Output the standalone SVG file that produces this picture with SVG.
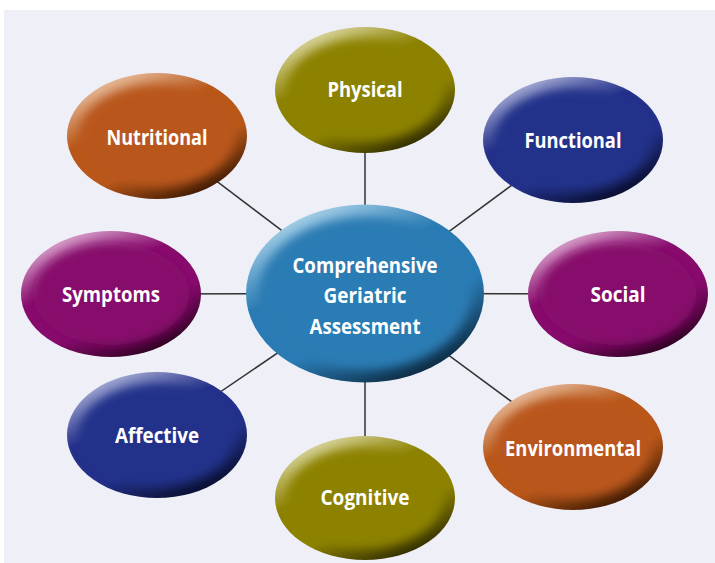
<svg xmlns="http://www.w3.org/2000/svg" width="715" height="563" viewBox="0 0 715 563">
<style>
.lbl{font-family:"Open Sans","Liberation Sans",sans-serif;font-weight:bold;font-size:21.5px;fill:#fff;text-anchor:middle}
.conn line{stroke:#333;stroke-width:1.5}
.inner{filter:url(#soft)}
</style>
<defs>
<filter id="soft" x="-20%" y="-20%" width="140%" height="140%"><feGaussianBlur stdDeviation="5"/></filter>
<clipPath id="clipS" clipPathUnits="userSpaceOnUse"><ellipse cx="0" cy="0" rx="90" ry="63"/></clipPath>
<clipPath id="clipC" clipPathUnits="userSpaceOnUse"><ellipse cx="0" cy="0" rx="119" ry="89"/></clipPath>
<linearGradient id="gOr" x1="0.2" y1="0.02" x2="0.8" y2="0.98"><stop offset="0" stop-color="#ecc8ac"/><stop offset="0.35" stop-color="#b9571a"/><stop offset="0.65" stop-color="#b9571a"/><stop offset="1" stop-color="#2e1200"/></linearGradient>
<linearGradient id="gOl" x1="0.2" y1="0.02" x2="0.8" y2="0.98"><stop offset="0" stop-color="#e2dfb0"/><stop offset="0.35" stop-color="#8c8200"/><stop offset="0.65" stop-color="#8c8200"/><stop offset="1" stop-color="#252200"/></linearGradient>
<linearGradient id="gNv" x1="0.2" y1="0.02" x2="0.8" y2="0.98"><stop offset="0" stop-color="#b4badc"/><stop offset="0.35" stop-color="#24318a"/><stop offset="0.65" stop-color="#24318a"/><stop offset="1" stop-color="#050a22"/></linearGradient>
<linearGradient id="gPu" x1="0.2" y1="0.02" x2="0.8" y2="0.98"><stop offset="0" stop-color="#e2b4d6"/><stop offset="0.35" stop-color="#870b6c"/><stop offset="0.65" stop-color="#870b6c"/><stop offset="1" stop-color="#220018"/></linearGradient>
<linearGradient id="gBl" x1="0.2" y1="0.02" x2="0.8" y2="0.98"><stop offset="0" stop-color="#b8dcee"/><stop offset="0.35" stop-color="#2a7bb4"/><stop offset="0.65" stop-color="#2a7bb4"/><stop offset="1" stop-color="#081e30"/></linearGradient>
</defs>
<rect x="0" y="0" width="715" height="563" fill="#fff"/>
<rect x="4" y="10" width="711" height="553" fill="#eeeff7"/>
<g class="conn" id="connectors">
<line x1="365" y1="293.5" x2="365" y2="90"/>
<line x1="365" y1="293.5" x2="157" y2="136"/>
<line x1="365" y1="293.5" x2="573" y2="140"/>
<line x1="365" y1="293.5" x2="111" y2="294"/>
<line x1="365" y1="293.5" x2="618" y2="294"/>
<line x1="365" y1="293.5" x2="157" y2="435"/>
<line x1="365" y1="293.5" x2="365" y2="498"/>
<line x1="365" y1="293.5" x2="573" y2="447"/>
</g>
<g id="physical" transform="translate(365,90)">
<ellipse rx="90" ry="63" fill="url(#gOl)"/>
<ellipse class="inner" rx="78" ry="51" fill="#8c8200" clip-path="url(#clipS)"/>
<text class="lbl" x="0" y="7" textLength="75" lengthAdjust="spacingAndGlyphs">Physical</text>
</g>
<g id="nutritional" transform="translate(157,136)">
<ellipse rx="90" ry="63" fill="url(#gOr)"/>
<ellipse class="inner" rx="78" ry="51" fill="#b9571a" clip-path="url(#clipS)"/>
<text class="lbl" x="0" y="9" textLength="101" lengthAdjust="spacingAndGlyphs">Nutritional</text>
</g>
<g id="functional" transform="translate(573,140)">
<ellipse rx="90" ry="63" fill="url(#gNv)"/>
<ellipse class="inner" rx="78" ry="51" fill="#24318a" clip-path="url(#clipS)"/>
<text class="lbl" x="0" y="8" textLength="97" lengthAdjust="spacingAndGlyphs">Functional</text>
</g>
<g id="symptoms" transform="translate(111,294)">
<ellipse rx="90" ry="63" fill="url(#gPu)"/>
<ellipse class="inner" rx="78" ry="51" fill="#870b6c" clip-path="url(#clipS)"/>
<text class="lbl" x="0" y="8" textLength="98" lengthAdjust="spacingAndGlyphs">Symptoms</text>
</g>
<g id="social" transform="translate(618,294)">
<ellipse rx="90" ry="63" fill="url(#gPu)"/>
<ellipse class="inner" rx="78" ry="51" fill="#870b6c" clip-path="url(#clipS)"/>
<text class="lbl" x="0" y="8" textLength="55" lengthAdjust="spacingAndGlyphs">Social</text>
</g>
<g id="affective" transform="translate(157,435)">
<ellipse rx="90" ry="63" fill="url(#gNv)"/>
<ellipse class="inner" rx="78" ry="51" fill="#24318a" clip-path="url(#clipS)"/>
<text class="lbl" x="0" y="8" textLength="84" lengthAdjust="spacingAndGlyphs">Affective</text>
</g>
<g id="cognitive" transform="translate(365,498)">
<ellipse rx="90" ry="62" fill="url(#gOl)"/>
<ellipse class="inner" rx="78" ry="50" fill="#8c8200" clip-path="url(#clipS)"/>
<text class="lbl" x="0" y="7" textLength="89" lengthAdjust="spacingAndGlyphs">Cognitive</text>
</g>
<g id="environmental" transform="translate(573,447)">
<ellipse rx="90" ry="63" fill="url(#gOr)"/>
<ellipse class="inner" rx="78" ry="51" fill="#b9571a" clip-path="url(#clipS)"/>
<text class="lbl" x="0" y="9" textLength="136" lengthAdjust="spacingAndGlyphs">Environmental</text>
</g>
<g id="cga" transform="translate(365,293.5)">
<ellipse rx="119" ry="89" fill="url(#gBl)"/>
<ellipse class="inner" rx="106" ry="76" fill="#2a7bb4" clip-path="url(#clipC)"/>
<text class="lbl" x="0" y="-20.5" textLength="145" lengthAdjust="spacingAndGlyphs">Comprehensive</text>
<text class="lbl" x="0" y="9.5" textLength="83" lengthAdjust="spacingAndGlyphs">Geriatric</text>
<text class="lbl" x="0" y="40.5" textLength="111" lengthAdjust="spacingAndGlyphs">Assessment</text>
</g>
</svg>
